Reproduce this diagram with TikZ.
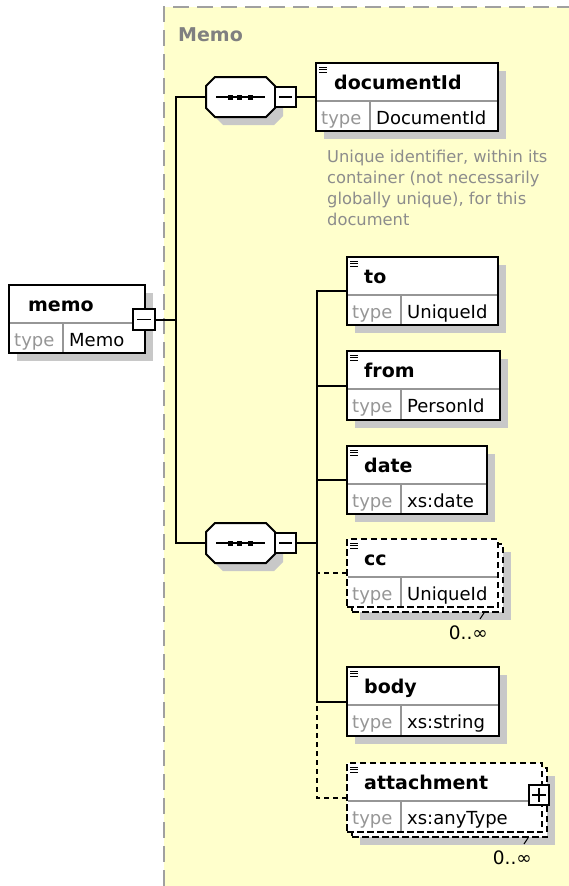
\documentclass[tikz,border=0pt]{standalone}
\usepackage{fontspec}
\newfontfamily\dvs{DejaVu Sans}
\usetikzlibrary{calc,shadows}
\definecolor{memoyellow}{RGB}{255,255,204}
\definecolor{shadowc}{RGB}{200,200,200}
\definecolor{frameg}{RGB}{160,160,160}
\definecolor{labelg}{RGB}{128,128,128}
\definecolor{typeg}{RGB}{150,150,150}
\definecolor{divg}{RGB}{150,150,150}
\definecolor{descg}{RGB}{140,140,140}
\tikzset{
  conn/.style={line width=2pt, draw=black},
  optconn/.style={conn, dash pattern=on 5pt off 4pt},
  boxshadow/.style={general shadow={fill=shadowc, shadow xshift=8pt, shadow yshift=-8pt}},
  ebox/.style={draw=black, line width=2pt, fill=white, anchor=north west, inner sep=0pt, outer sep=0pt},
  optbox/.style={ebox, dash pattern=on 6.5pt off 3.5pt},
  titletxt/.style={anchor=base west, inner sep=0pt, font=\dvs\bfseries\fontsize{19}{19}\selectfont},
  typetxt/.style={anchor=base west, inner sep=0pt, text=typeg, font=\dvs\fontsize{18}{18}\selectfont},
  valtxt/.style={anchor=base west, inner sep=0pt, font=\dvs\fontsize{18}{18}\selectfont},
  divline/.style={draw=divg, line width=1.3pt},
  togglebox/.style={draw=black, line width=2pt, fill=white, inner sep=0pt, outer sep=0pt},
  seqarea/.style={inner sep=0pt, outer sep=0pt, minimum width=69pt, minimum height=40pt},
  cardtxt/.style={anchor=base east, inner sep=0pt, font=\dvs\fontsize{18.5}{18.5}\selectfont},
  ticklne/.style={line width=1pt, draw=black},
}
\newcommand\elemrows[4]{%
  \draw[divline] ($(#1.north west)+(1,38)$) -- ($(#1.north east)+(-1,38)$);
  \draw[divline] ($(#1.north west)+(54,38)$) -- ($(#1.south west)+(54,-1)$);
  \node[titletxt] (#1-title) at ($(#1.north west)+(#4,26)$) {#2};
  \node[typetxt] (#1-type) at ($(#1.north west)+(5,61)$) {type};
  \node[valtxt] (#1-val) at ($(#1.north west)+(60,61)$) {#3};
}
\newcommand\elemicon[1]{%
  \foreach \dy in {4,6.5,9}{\draw[line width=0.9pt] ($(#1.north west)+(3,\dy)$) -- ++(8,0);}
}
\newcommand\seqglyph[1]{%
  \fill[shadowc] ($(#1)+(8,8)$) ++(-25.5,-20) -- ++(51,0) -- ++(9,9) -- ++(0,22) -- ++(-9,9) -- ++(-51,0) -- ++(-9,-9) -- ++(0,-22) -- cycle;
  \filldraw[fill=white, draw=black, line width=2pt] (#1) ++(-25.5,-20) -- ++(51,0) -- ++(9,9) -- ++(0,22) -- ++(-9,9) -- ++(-51,0) -- ++(-9,-9) -- ++(0,-22) -- cycle;
  \draw[line width=1.5pt] ($(#1)+(-24.5,0)$) -- ($(#1)+(24.5,0)$);
  \foreach \dx in {-10.5,-1,9.5}{\fill ($(#1)+(\dx,0)$) ++(-2.5,-2.5) rectangle ++(5,5);}
  \node[togglebox, minimum width=21pt, minimum height=20pt, anchor=west] (#1m) at (#1.east) {};
  \draw[line width=1.5pt] ($(#1m.west)+(4,0)$) -- ($(#1m.east)+(-4,0)$);
}
\begin{document}
\begin{tikzpicture}[x=1pt, y=-1pt]
\useasboundingbox (0,0) rectangle (569,886);
% group background
\fill[memoyellow] (164,7) rectangle (569,886);
\draw[frameg, line width=2pt, dash pattern=on 16pt off 8pt] (164,886) -- (164,7) -- (572,7);
\node[anchor=base west, inner sep=0pt, text=labelg, font=\dvs\bfseries\fontsize{19}{19}\selectfont] (grouplabel) at (178,41) {Memo};

% root element
\node[ebox, boxshadow, minimum width=136pt, minimum height=68pt] (memo) at (9,285) {};
\elemrows{memo}{memo}{Memo}{19}
\node[togglebox, minimum width=22pt, minimum height=21pt] (memom) at (144,319.5) {};
\draw[line width=1.5pt] ($(memom.west)+(4,0)$) -- ($(memom.east)+(-4,0)$);

% sequences
\node[seqarea] (s1) at (240.5,97) {};
\seqglyph{s1}
\node[seqarea] (s2) at (240.5,543) {};
\seqglyph{s2}

% documentId
\node[ebox, boxshadow, minimum width=182pt, minimum height=68pt] (docid) at (316,63) {};
\elemicon{docid}
\elemrows{docid}{documentId}{DocumentId}{18}
\node[anchor=north west, inner sep=0pt, align=left, text=descg, font=\dvs\fontsize{16.3}{21.2}\selectfont] (desc) at (327,149.5) {Unique identifier, within its\\container (not necessarily\\globally unique), for this\\document};

% children of second sequence
\node[ebox, boxshadow, minimum width=151pt, minimum height=68pt] (to) at (347,257) {};
\elemicon{to}
\elemrows{to}{to}{UniqueId}{17}

\node[ebox, boxshadow, minimum width=153pt, minimum height=69pt] (from) at (347,351) {};
\elemicon{from}
\elemrows{from}{from}{PersonId}{17}

\node[ebox, boxshadow, minimum width=140pt, minimum height=68pt] (date) at (347,446) {};
\elemicon{date}
\elemrows{date}{date}{xs:date}{17}

\node[optbox, boxshadow, minimum width=151pt, minimum height=68pt] (cc-back) at (352,544) {};
\node[optbox, minimum width=151pt, minimum height=68pt] (cc) at (347,539) {};
\elemicon{cc}
\elemrows{cc}{cc}{UniqueId}{17}
\draw[ticklne] ($(cc-back.south east)+(-23,7)$) -- ++(4,-6);
\node[cardtxt] (cc-card) at ($(cc-back.south east)+(-15,27)$) {0..∞};

\node[ebox, boxshadow, minimum width=152pt, minimum height=69pt] (body) at (347,667) {};
\elemicon{body}
\elemrows{body}{body}{xs:string}{17}

\node[optbox, boxshadow, minimum width=195pt, minimum height=69pt] (att-back) at (352,768) {};
\node[optbox, minimum width=195pt, minimum height=69pt] (att) at (347,763) {};
\elemicon{att}
\elemrows{att}{attachment}{xs:anyType}{17}
\node[togglebox, line width=1.6pt, minimum width=20pt, minimum height=20pt] (attp) at (539,795) {};
\draw[line width=1.4pt] ($(attp.west)+(3,0)$) -- ($(attp.east)+(-3,0)$);
\draw[line width=1.4pt] ($(attp.north)+(0,3)$) -- ($(attp.south)+(0,-3)$);
\draw[ticklne] ($(att-back.south east)+(-23,7)$) -- ++(4,-6);
\node[cardtxt] (att-card) at ($(att-back.south east)+(-15,27)$) {0..∞};

% connectors
\draw[conn] (memom.east) -- ++(21,0) coordinate (t1);
\draw[conn] (s1.west) -- (s1.west -| t1) -- (s2.west -| t1) -- (s2.west);
\draw[conn] (s1m.east) -- (docid.west);
\draw[conn] (s2m.east) -- ++(21,0) coordinate (t2);
\draw[conn] (to.west) -| (t2);
\draw[conn] (body.west) -| (t2);
\draw[conn] (from.west) -- (from.west -| t2);
\draw[conn] (date.west) -- (date.west -| t2);
\draw[optconn] (cc.west) -- (cc.west -| t2);
\draw[optconn] (att.west) -| (body.west -| t2);
\end{tikzpicture}
\end{document}
